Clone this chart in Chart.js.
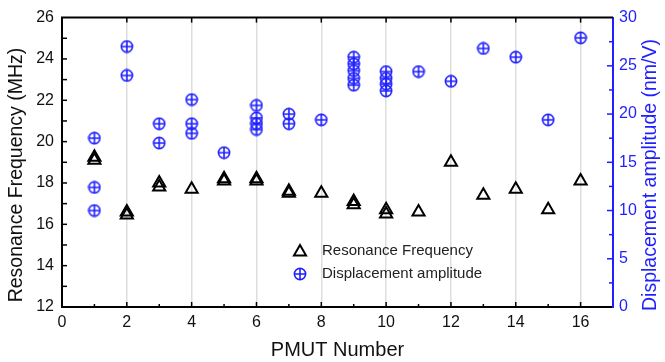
<!DOCTYPE html>
<html>
<head>
<meta charset="utf-8">
<script src="https://cdn.jsdelivr.net/npm/chart.js@4"></script>
<style>
    body { margin: 0; background: #fff; }
    #wrap { width: 665px; height: 362px; }
</style>
</head>
<body>
<div id="wrap"><canvas id="chart" width="665" height="362"></canvas></div>
<script>
// PMUT resonance frequency (left axis, MHz)
const freqPmut = [1, 1, 2, 2, 3, 3, 4, 5, 5, 6, 6, 7, 7, 8, 9, 9, 10, 10, 11, 12, 13, 14, 15, 16];
const freqMHz = [19.1, 19.25, 16.45, 16.6, 17.8, 18.0, 17.7, 18.1, 18.2, 18.1, 18.2, 17.5, 17.6, 17.5, 16.95, 17.1, 16.5, 16.7, 16.6, 19.0, 17.4, 17.7, 16.7, 18.1];

// displacement amplitude (right axis, nm/V)
const dispPmut = [1, 1, 1, 2, 2, 3, 3, 4, 4, 4, 5, 6, 6, 6, 6, 7, 7, 8, 9, 9, 9, 9, 9, 10, 10, 10, 10, 11, 12, 13, 14, 15, 16];
const dispNmV = [17.5, 12.4, 10.0, 27.0, 24.0, 19.0, 17.0, 21.5, 19.0, 18.0, 16.0, 20.9, 19.6, 19.0, 18.4, 20.0, 19.0, 19.4, 25.9, 25.2, 24.5, 23.7, 23.0, 24.4, 23.7, 23.1, 22.4, 24.4, 23.4, 26.8, 25.9, 19.4, 27.9];

const xTicks = [0, 2, 4, 6, 8, 10, 12, 14, 16];
const legendLabels = ['Resonance Frequency', 'Displacement amplitude'];
const leftTitle = 'Resonance Frequency (MHz)';
const rightTitle = 'Displacement amplitude (nm/V)';

const BLUE = '#1f1fff';
const FONT = "'Liberation Sans', Arial, sans-serif";

// circle with a plus inside, used as point style
function crossCircle(color) {
    const c = document.createElement('canvas');
    c.width = 14; c.height = 14;
    const g = c.getContext('2d');
    g.strokeStyle = color;
    g.lineWidth = 1.6;
    g.beginPath(); g.arc(7, 7, 5.6, 0, Math.PI * 2); g.stroke();
    g.beginPath();
    g.moveTo(1.4, 7); g.lineTo(12.6, 7);
    g.moveTo(7, 1.4); g.lineTo(7, 12.6);
    g.stroke();
    return c;
}
const circleIcon = crossCircle(BLUE);

const toPoints = (xs, ys) => xs.map((x, i) => ({ x: x, y: ys[i] }));

function verticalText(ctx, text, x, y, color) {
    ctx.save();
    ctx.translate(x, y);
    ctx.rotate(-Math.PI / 2);
    ctx.fillStyle = color;
    ctx.font = '19.5px ' + FONT;
    ctx.textAlign = 'center';
    ctx.textBaseline = 'middle';
    ctx.fillText(text, 0, 0);
    ctx.restore();
}

// inward ticks, top frame, y titles and legend
const framePlugin = {
    id: 'frame',
    afterDraw(chart) {
        const { ctx, chartArea: a, scales } = chart;
        const sx = scales.x, sy = scales.y, sr = scales.y1;
        ctx.save();
        ctx.lineWidth = 2;
        ctx.strokeStyle = '#000';
        ctx.beginPath(); ctx.moveTo(a.left - 1, a.top); ctx.lineTo(a.right, a.top); ctx.stroke();

        ctx.lineWidth = 1.5;
        for (let v = 1; v <= 16; v++) {
            const px = sx.getPixelForValue(v);
            const len = v % 2 === 0 ? 5 : 3;
            ctx.beginPath(); ctx.moveTo(px, a.bottom); ctx.lineTo(px, a.bottom - len); ctx.stroke();
            if (v % 2 === 0) { ctx.beginPath(); ctx.moveTo(px, a.top); ctx.lineTo(px, a.top + 5); ctx.stroke(); }
        }
        for (let v = 13; v < 26; v++) {
            const py = sy.getPixelForValue(v);
            ctx.beginPath(); ctx.moveTo(a.left, py); ctx.lineTo(a.left + 5, py); ctx.stroke();
        }
        ctx.strokeStyle = BLUE;
        for (let v = 2.5; v < 30; v += 2.5) {
            const py = sr.getPixelForValue(v);
            const len = v % 5 === 0 ? 6 : 4;
            ctx.beginPath(); ctx.moveTo(a.right, py); ctx.lineTo(a.right - len, py); ctx.stroke();
        }

        // axis titles, reading bottom to top
        verticalText(ctx, leftTitle, 17, 175, '#111');
        verticalText(ctx, rightTitle, 651, 175, BLUE);

        // legend
        const lx = 300, ly = 251, gap = 23;
        ctx.strokeStyle = '#000';
        ctx.fillStyle = 'rgba(0,0,0,0)';
        ctx.lineWidth = 2;
        Chart.helpers.drawPoint(ctx, { pointStyle: 'triangle', radius: 7, rotation: 0, borderWidth: 2 }, lx, ly + 1);
        ctx.drawImage(circleIcon, lx - 7, ly + gap - 7);
        ctx.fillStyle = '#222';
        ctx.font = '15px ' + FONT;
        ctx.textAlign = 'left';
        ctx.textBaseline = 'middle';
        ctx.fillText(legendLabels[0], lx + 22, ly);
        ctx.fillText(legendLabels[1], lx + 22, ly + gap);
        ctx.restore();
    }
};

new Chart(document.getElementById('chart'), {
    type: 'scatter',
    data: {
        datasets: [
            {
                label: legendLabels[0],
                data: toPoints(freqPmut, freqMHz),
                yAxisID: 'y',
                pointStyle: 'triangle',
                pointRadius: 7,
                borderColor: '#000',
                backgroundColor: 'rgba(0,0,0,0)',
                borderWidth: 2
            },
            {
                label: legendLabels[1],
                data: toPoints(dispPmut, dispNmV),
                yAxisID: 'y1',
                pointStyle: circleIcon,
                borderColor: BLUE,
                backgroundColor: BLUE
            }
        ]
    },
    options: {
        responsive: false,
        devicePixelRatio: 1,
        animation: false,
        events: [],
        layout: { padding: { top: 16 } },
        plugins: { legend: { display: false }, tooltip: { enabled: false } },
        scales: {
            x: {
                type: 'linear',
                min: 0, max: 17,
                afterBuildTicks: s => { s.ticks = xTicks.map(v => ({ value: v })); },
                afterFit: s => { s.height = 55; },
                ticks: { color: '#111', font: { family: FONT, size: 16 }, padding: 6 },
                grid: { drawTicks: false, color: ctx => ctx.tick && ctx.tick.value === 0 ? 'rgba(0,0,0,0)' : '#dedede', lineWidth: 1.5 },
                border: { color: '#000', width: 2 },
                title: { display: true, text: 'PMUT Number', color: '#111', font: { family: FONT, size: 20 }, padding: { top: 0, bottom: 0 } }
            },
            y: {
                position: 'left',
                min: 12, max: 26,
                afterFit: s => { s.width = 62; },
                ticks: { stepSize: 2, color: '#111', font: { family: FONT, size: 16 }, padding: 8 },
                grid: { display: false, drawTicks: false },
                border: { color: '#000', width: 2 },
                title: { display: false }
            },
            y1: {
                position: 'right',
                min: 0, max: 30,
                afterFit: s => { s.width = 52; },
                ticks: { stepSize: 5, color: BLUE, font: { family: FONT, size: 16 }, padding: 6 },
                grid: { display: false, drawTicks: false },
                border: { color: BLUE, width: 2 },
                title: { display: false }
            }
        }
    },
    plugins: [framePlugin]
});
</script>
</body>
</html>
